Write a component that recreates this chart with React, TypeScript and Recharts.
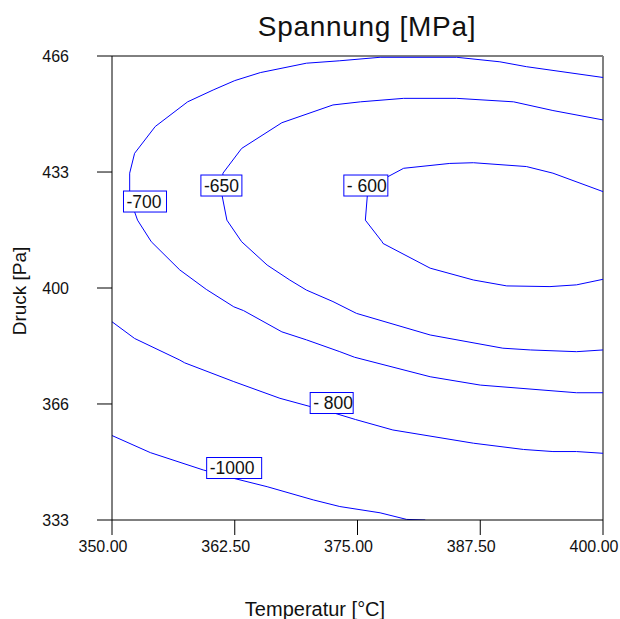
import React from "react";
import { ComposedChart, Line, XAxis, YAxis, ReferenceLine, ReferenceDot } from "recharts";

const FONT = "'Liberation Sans', Arial, sans-serif";
const BLUE = "#0000ff";

// axis ticks
const X_TICKS = [350, 362.5, 375, 387.5, 400];
const X_TICK_LABELS = ["350.00", "362.50", "375.00", "387.50", "400.00"];
const Y_TICKS = [333.33, 366.67, 400, 433.33, 466.67];
const Y_TICK_LABELS = ["333", "366", "400", "433", "466"];

// contour lines (Temperatur, Druck)
const temp600 = [400, 394.9, 392.2, 386.8, 384.4, 379.7, 378.1, 376.0, 375.8, 377.5, 377.6, 382.4, 386.8, 390.2, 394.6, 397.3, 400];
const druck600 = [427.7, 433.0, 434.9, 436.0, 435.8, 434.4, 432.0, 426.5, 419.5, 413.3, 412.8, 405.7, 402.3, 400.6, 400.4, 400.9, 402.5];

const temp650 = [400, 394.9, 390.9, 385.1, 379.7, 375.3, 372.5, 367.3, 363.2, 361.3, 361.2, 361.7, 363.2, 365.8, 368.1, 369.8, 372.5, 374.9, 382.4, 389.8, 392.6, 397.3, 400];
const druck650 = [448.3, 451.0, 453.5, 454.5, 454.5, 453.5, 452.6, 447.5, 440.1, 433.0, 426.7, 419.5, 413.3, 406.6, 402.3, 399.4, 396.1, 392.7, 386.5, 382.7, 382.2, 381.7, 382.2];

const temp700 = [400, 392.2, 389.5, 385.1, 377.3, 373.2, 369.8, 365.1, 362.5, 360.3, 357.7, 354.4, 352.3, 351.8, 351.8, 352.3, 352.6, 354.0, 356.9, 359.6, 362.4, 363.4, 367.3, 369.8, 373.2, 374.7, 382.4, 387.5, 397.3, 400];
const druck700 = [460.5, 463.6, 465.0, 466.3, 466.3, 465.3, 464.6, 461.9, 459.6, 456.9, 453.5, 446.4, 438.7, 433.0, 427.7, 421.9, 419.5, 413.3, 405.2, 399.6, 394.6, 393.5, 387.4, 385.1, 381.7, 380.1, 374.5, 372.1, 369.9, 369.9];

const temp800 = [350, 352.3, 356.9, 357.4, 362.4, 367.1, 372.7, 374.8, 378.6, 386.8, 391.9, 394.9, 397.3, 400];
const druck800 = [390.3, 385.5, 379.3, 378.5, 373.1, 368.3, 364.0, 362.2, 359.2, 355.4, 353.6, 353.0, 353.0, 352.5];

const temp1000 = [350, 353.9, 359.3, 362.4, 365.8, 370.5, 373.2, 377.3, 380.0, 381.9];
const druck1000 = [357.6, 352.7, 347.7, 345.3, 342.9, 339.1, 337.2, 335.4, 333.5, 333.33];

// contour labels
const LABEL_TEXT = ["-700", "-650", "- 600", "- 800", "-1000"];
const LABEL_TEMP = [353.36, 361.14, 375.85, 372.37, 362.44];
const LABEL_DRUCK = [424.85, 429.45, 429.45, 366.95, 348.27];

const BOX_W: Record<string, number> = { "-700": 43, "-650": 41, "- 600": 44, "- 800": 43, "-1000": 55 };

const toPoints = (xs: number[], ys: number[]) => xs.map((x, i) => ({ x, y: ys[i] }));

const contours = [
  toPoints(temp600, druck600),
  toPoints(temp650, druck650),
  toPoints(temp700, druck700),
  toPoints(temp800, druck800),
  toPoints(temp1000, druck1000),
];

function XTick(props: any) {
  const { x, y, payload } = props;
  const label = X_TICK_LABELS[X_TICKS.indexOf(payload.value)] ?? "";
  return (
    <text x={x - 9} y={y} dy="0.71em" textAnchor="middle" fontSize={16} fontFamily={FONT} fill="#111">
      {label}
    </text>
  );
}

function LabelBox({ cx, cy, text }: { cx: number; cy: number; text: string }) {
  const w = BOX_W[text] ?? 44;
  const h = 21;
  return (
    <g>
      <rect x={cx - w / 2} y={cy - h / 2} width={w} height={h} fill="#fff" stroke={BLUE} strokeWidth={1} />
      <text x={cx - w / 2 + 3} y={cy + 6} fontSize={17.5} fontFamily={FONT} fill="#111">
        {text}
      </text>
    </g>
  );
}

export default function App() {
  return (
    <div style={{ position: "absolute", left: 0, top: 0, width: 620, height: 619, background: "#fff" }}>
      <ComposedChart width={620} height={619} margin={{ top: 56, right: 17, bottom: 0, left: 0 }}>
        <XAxis
          type="number"
          dataKey="x"
          domain={[350, 400]}
          ticks={X_TICKS}
          allowDataOverflow
          height={99}
          tickSize={15}
          tickMargin={6}
          stroke="#000"
          tickLine={{ stroke: "#000" }}
          tick={<XTick />}
        />
        <YAxis
          type="number"
          dataKey="y"
          domain={[333.33, 466.67]}
          ticks={Y_TICKS}
          allowDataOverflow
          width={112}
          tickSize={15}
          tickMargin={28}
          stroke="#000"
          tickLine={{ stroke: "#000" }}
          tickFormatter={(v: number) => Y_TICK_LABELS[Y_TICKS.indexOf(v)] ?? ""}
          tick={{ fontSize: 16, fontFamily: FONT, fill: "#111" }}
        />
        <ReferenceLine y={466.67} stroke="#000" strokeWidth={1} />
        <ReferenceLine x={400} stroke="#808080" strokeWidth={2} />
        {contours.map((pts, i) => (
          <Line
            key={i}
            data={pts}
            dataKey="y"
            type="linear"
            stroke={BLUE}
            strokeWidth={1}
            dot={false}
            activeDot={false}
            isAnimationActive={false}
          />
        ))}
        {LABEL_TEXT.map((t, i) => (
          <ReferenceDot
            key={t}
            x={LABEL_TEMP[i]}
            y={LABEL_DRUCK[i]}
            r={1}
            ifOverflow="visible"
            shape={(p: any) => <LabelBox cx={p.cx} cy={p.cy} text={t} />}
          />
        ))}
      </ComposedChart>
      <svg width={620} height={619} style={{ position: "absolute", left: 0, top: 0, pointerEvents: "none" }}>
        <text x={367} y={36} textAnchor="middle" fontSize={28} letterSpacing={0.7} fontFamily={FONT} fill="#111">
          Spannung [MPa]
        </text>
        <text x={315} y={616} textAnchor="middle" fontSize={20} fontFamily={FONT} fill="#111">
          Temperatur [°C]
        </text>
        <text x={26} y={291} textAnchor="middle" fontSize={19} fontFamily={FONT} fill="#111" transform="rotate(-90 26 291)">
          Druck [Pa]
        </text>
      </svg>
    </div>
  );
}
